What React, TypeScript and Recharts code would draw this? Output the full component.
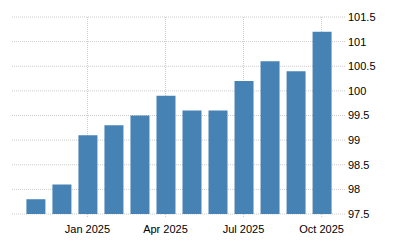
import { Bar, BarChart, CartesianGrid, ReferenceLine, XAxis, YAxis } from 'recharts';

const months = [
    'Nov 2024',
    'Dec 2024',
    'Jan 2025',
    'Feb 2025',
    'Mar 2025',
    'Apr 2025',
    'May 2025',
    'Jun 2025',
    'Jul 2025',
    'Aug 2025',
    'Sep 2025',
    'Oct 2025',
];
const values = [97.8, 98.1, 99.1, 99.3, 99.5, 99.9, 99.6, 99.6, 100.2, 100.6, 100.4, 101.2];
const xTickLabels = ['Jan 2025', 'Apr 2025', 'Jul 2025', 'Oct 2025'];
const yTicks = [97.5, 98, 98.5, 99, 99.5, 100, 100.5, 101, 101.5];

const data = months.map((m, i) => ({ i, month: m, value: values[i] }));
const xTicks = xTickLabels.map((l) => months.indexOf(l));

const tickStyle = { fontSize: 11, fill: '#000', fontFamily: '"Liberation Sans", Arial, sans-serif' };

export default function App() {
    return (
        <div style={{ position: 'absolute', left: 0, top: 0, width: 400, height: 250, background: '#fff' }}>
            <BarChart width={400} height={250} data={data} margin={{ top: 17, right: 0, left: 12, bottom: 6 }}>
                <CartesianGrid stroke="#cccccc" strokeDasharray="1 1" syncWithTicks horizontal={false} />
                <XAxis
                    dataKey="i"
                    type="number"
                    domain={[-0.9, 11.9]}
                    ticks={xTicks}
                    tickFormatter={(v: number) => months[v]}
                    height={30}
                    axisLine={false}
                    tickLine={{ stroke: '#cccccc', strokeDasharray: '1 1' }}
                    tickSize={3}
                    tickMargin={8}
                    tick={tickStyle}
                    allowDataOverflow
                />
                <YAxis
                    orientation="right"
                    domain={[97.5, 101.5]}
                    ticks={yTicks}
                    width={55}
                    axisLine={false}
                    tickLine={false}
                    tickSize={0}
                    tickMargin={3}
                    tick={{ ...tickStyle, textAnchor: 'start' }}
                    allowDataOverflow
                />
                {/* horizontal grid as reference lines, pushed under the bars */}
                {yTicks.map((t) => (
                    <ReferenceLine key={t} y={t} stroke="#cccccc" strokeDasharray="1 1" zIndex={-100} />
                ))}
                <Bar dataKey="value" fill="#4682b4" barSize={19} isAnimationActive={false} />
            </BarChart>
        </div>
    );
}
